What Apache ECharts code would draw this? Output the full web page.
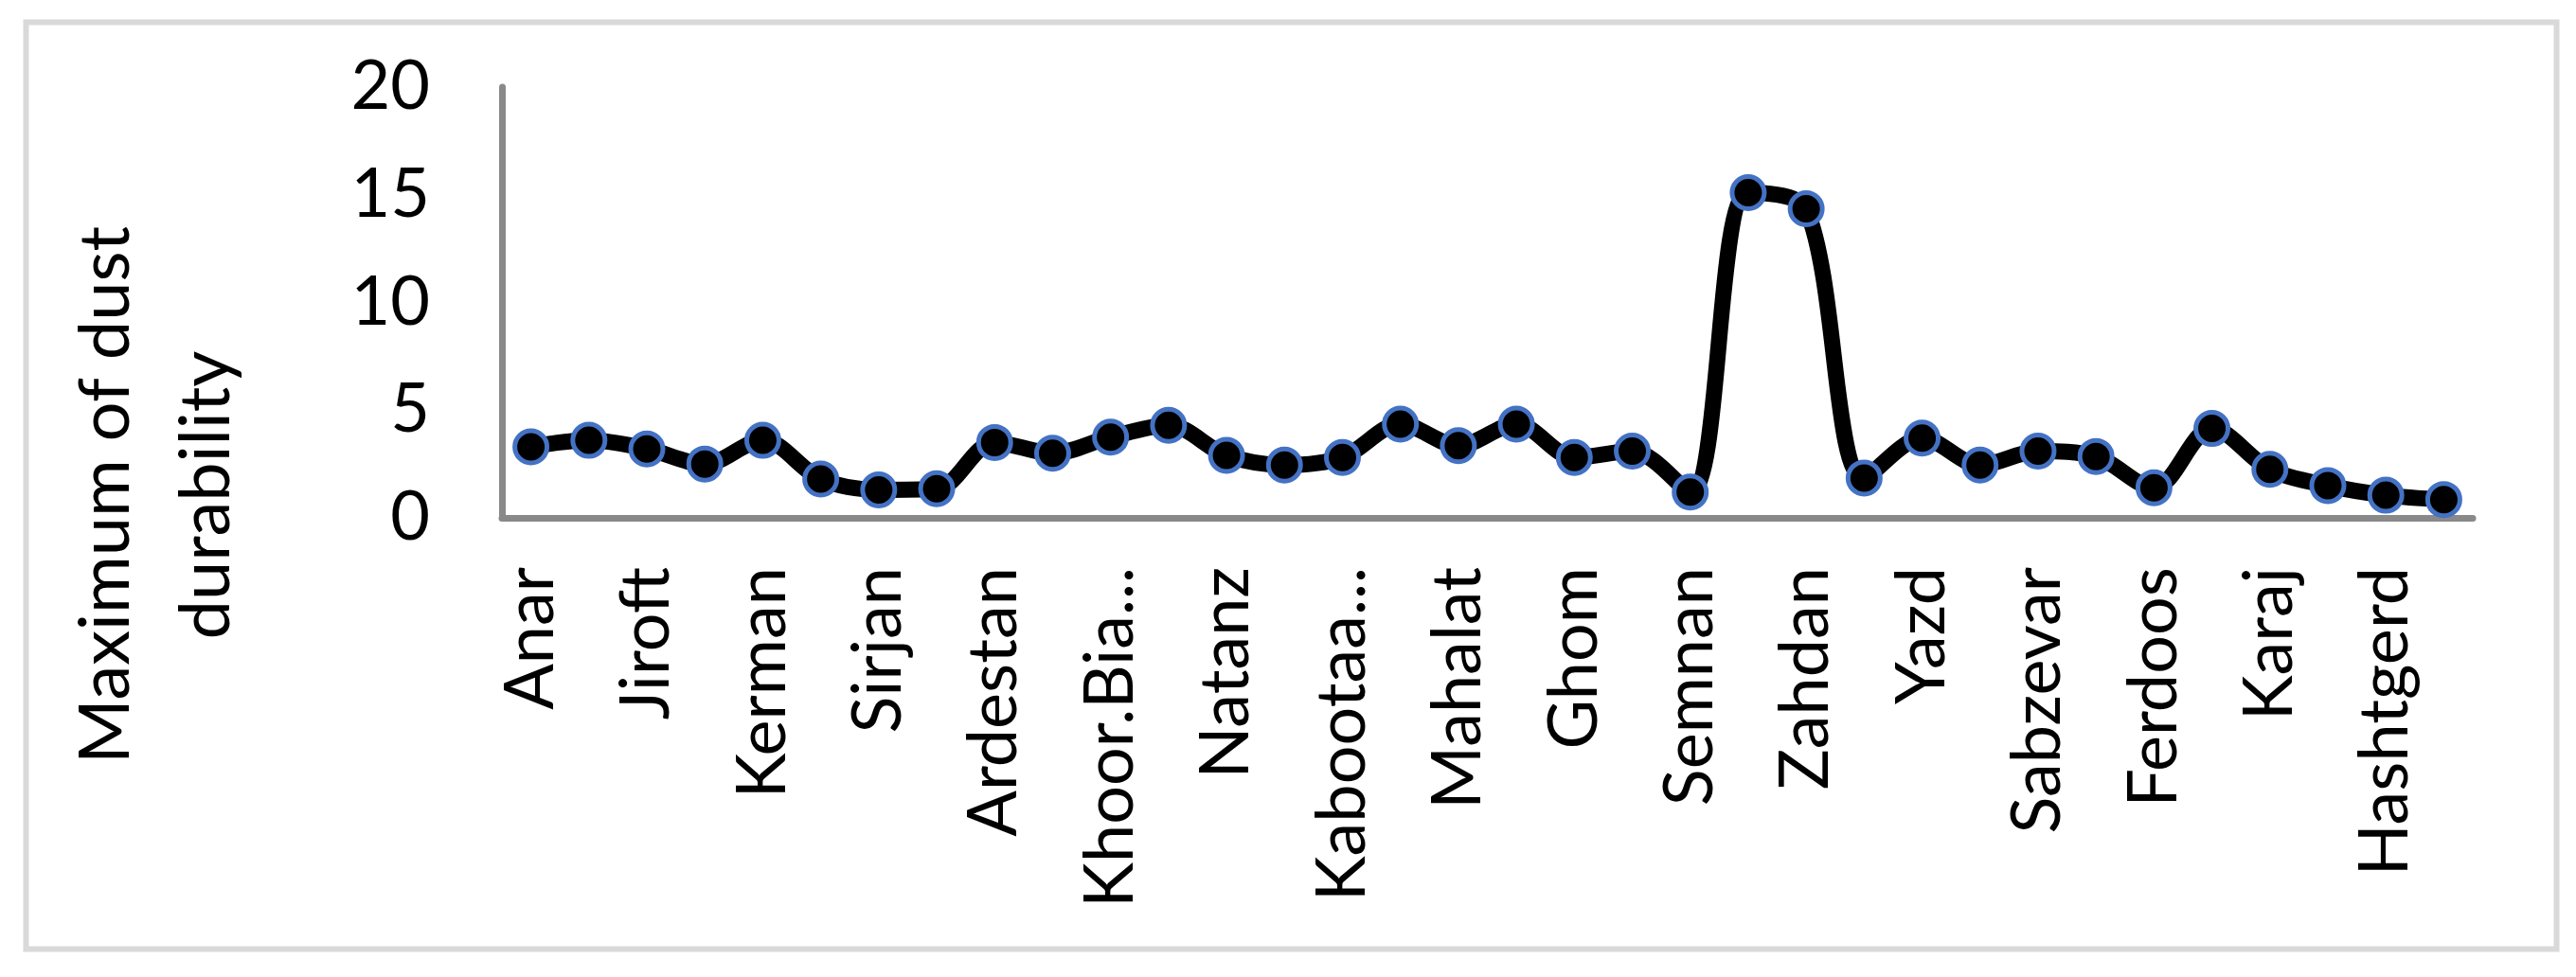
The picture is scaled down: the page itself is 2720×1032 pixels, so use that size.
<!DOCTYPE html>
<html>
<head>
<meta charset="utf-8">
<script src="https://cdn.jsdelivr.net/npm/echarts@6/dist/echarts.min.js"></script>
<style>
html,body{margin:0;padding:0;background:#ffffff;}
#chart{width:2720px;height:1032px;}
</style>
</head>
<body>
<div id="chart"></div>
<script>
// Stations (every other one is labelled on the axis, as in the original)
const categories = [
  'Anar', 'Bam', 'Jiroft', 'Rafsanjan', 'Kerman', 'Shahr-e-Babak', 'Sirjan', 'Baft',
  'Ardestan', 'Kashan', 'Khoor.Biabanak', 'Naein', 'Natanz', 'Isfahan', 'Kabootaabaad', 'Shahreza',
  'Mahalat', 'Arak', 'Ghom', 'Saveh', 'Semnan', 'Zabol', 'Zahdan', 'Tabas',
  'Yazd', 'Bafgh', 'Sabzevar', 'Gonabad', 'Ferdoos', 'Birjand', 'Karaj', 'Tehran',
  'Hashtgerd', 'Ghazvin'
];
// Maximum of dust durability
const values = [
  3.3, 3.6, 3.2, 2.5, 3.6, 1.8, 1.3, 1.35,
  3.5, 3.0, 3.75, 4.3, 2.9, 2.45, 2.8, 4.35,
  3.35, 4.35, 2.8, 3.1, 1.2, 15.1, 14.35, 1.85,
  3.7, 2.45, 3.1, 2.85, 1.4, 4.15, 2.25, 1.5,
  1.05, 0.85
];
const yMin = 0;
const yMax = 20;
const yStep = 5;
const axisTitleLines = ['Maximum of dust', 'durability'];

const FONT = 'Lato';
const chart = echarts.init(document.getElementById('chart'), null, {renderer: 'canvas'});

chart.setOption({
  backgroundColor: '#ffffff',
  animation: false,
  grid: {
    left: 530,
    right: 109,
    top: 92,
    bottom: 485,
    outerBoundsMode: 'none'
  },
  xAxis: {
    type: 'category',
    data: categories,
    boundaryGap: true,
    axisLine: {show: true, lineStyle: {color: '#898989', width: 7}},
    axisTick: {show: false},
    splitLine: {show: false},
    axisLabel: {
      interval: 1,
      rotate: 90,
      margin: 52,
      color: '#000000',
      fontFamily: FONT,
      fontSize: 72,
      width: 375,
      overflow: 'truncate',
      ellipsis: '...'
    }
  },
  yAxis: {
    type: 'value',
    min: yMin,
    max: yMax,
    interval: yStep,
    axisLine: {show: true, lineStyle: {color: '#898989', width: 7}},
    axisTick: {show: false},
    splitLine: {show: false},
    axisLabel: {
      margin: 76,
      color: '#000000',
      fontFamily: FONT,
      fontSize: 72
    }
  },
  graphic: [
    {
      type: 'rect',
      shape: {x: 27.5, y: 23.5, width: 2672, height: 979},
      style: {fill: 'none', stroke: '#d9d9d9', lineWidth: 6},
      silent: true,
      z: -10
    },
    {
      type: 'text',
      x: 165,
      y: 523,
      rotation: Math.PI / 2,
      style: {
        text: axisTitleLines.join('\n'),
        fontFamily: FONT,
        fontSize: 74,
        lineHeight: 106,
        fill: '#000000',
        align: 'center',
        verticalAlign: 'middle'
      }
    }
  ],
  series: [
    {
      type: 'line',
      data: values,
      smooth: 0.33,
      symbol: 'circle',
      symbolSize: 34,
      lineStyle: {color: '#000000', width: 17},
      itemStyle: {color: '#000000', borderColor: '#4472C4', borderWidth: 5},
      emphasis: {disabled: true}
    }
  ]
});
</script>
</body>
</html>
